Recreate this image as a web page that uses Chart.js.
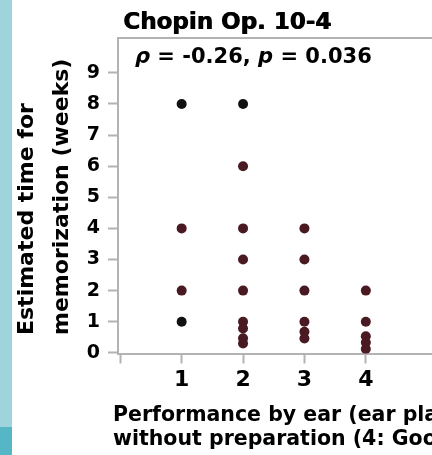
<!DOCTYPE html>
<html>
<head>
<meta charset="utf-8">
<script src="https://cdn.jsdelivr.net/npm/chart.js@4.4.1/dist/chart.umd.min.js"></script>
<style>
  html, body { margin: 0; padding: 0; background: #fff; overflow: hidden; }
  #marco { position: relative; width: 432px; height: 455px; overflow: hidden; }
  #grafico { position: absolute; left: 0; top: 0; }
  .franja { position: absolute; left: 0; width: 12px; }
</style>
</head>
<body>
<div id="marco">
  <canvas id="grafico" width="520" height="455"></canvas>
  <div class="franja" style="top:0;height:427px;background:#9fd4dc"></div>
  <div class="franja" style="top:427px;height:28px;background:#55b7c5"></div>
</div>
<script>
// Puntuacion de interpretacion de oido (1-4) y semanas estimadas de memorizacion
const puntuacion = [1, 1, 2, 2, 2, 2, 2, 2, 2, 2, 3, 3, 3, 3, 3, 3, 4, 4, 4, 4, 4];
const semanas    = [4, 2, 6, 4, 3, 2, 1, 0.78, 0.47, 0.3, 4, 3, 2, 1, 0.68, 0.46, 2, 1, 0.53, 0.33, 0.12];

// Puntos superpuestos (se ven mas oscuros)
const puntuacionSup = [1, 2, 1];
const semanasSup    = [8, 8, 1];

const ticksX = [0, 1, 2, 3, 4];
const ticksY = [0, 1, 2, 3, 4, 5, 6, 7, 8, 9];

const titulo = "Chopin Op. 10-4";
const rho = "-0.26";
const valorP = "0.036";
const tituloY = ["Estimated time for", "memorization (weeks)"];
const tituloX = ["Performance by ear (ear playing", "without preparation (4: Good, 1: Poor))"];

const gris = "#b3b3b3";
const fuente = '"DejaVu Sans"';

// Textos que van fuera de los ejes: titulo, rho y nombres de ejes
const textos = {
    id: "textos",
    afterDraw(chart) {
        const ctx = chart.ctx;
        ctx.save();
        ctx.fillStyle = "#000";
        ctx.textAlign = "left";
        ctx.textBaseline = "alphabetic";

        // titulo mas grueso: se pinta dos veces un poco corrido
        ctx.font = "bold 23px " + fuente;
        ctx.fillText(titulo, 123, 28.5);
        ctx.fillText(titulo, 123.8, 28.5);

        // rho y p en cursiva
        const partes = [
            ["\u03C1", true], [" = " + rho + ", ", false], ["p", true], [" = " + valorP, false]
        ];
        let x = 135;
        partes.forEach(([t, cursiva]) => {
            ctx.font = (cursiva ? "italic " : "") + "bold 21px " + fuente;
            ctx.fillText(t, x, 63);
            x += ctx.measureText(t).width;
        });

        ctx.font = "bold 22px " + fuente;
        ctx.save();
        ctx.translate(33, 335);
        ctx.rotate(-Math.PI / 2);
        tituloY.forEach((linea, i) => ctx.fillText(linea, 0, i * 35));
        ctx.restore();

        ctx.font = "bold 20.5px " + fuente;
        tituloX.forEach((linea, i) => ctx.fillText(linea, 113, 421 + i * 24));
        ctx.restore();
    }
};

new Chart(document.getElementById("grafico"), {
    type: "scatter",
    data: {
        datasets: [{
            data: puntuacion.map((p, i) => ({ x: p, y: semanas[i] })),
            backgroundColor: "#4a1a22",
            pointRadius: 5,
            borderWidth: 0
        }, {
            data: puntuacionSup.map((p, i) => ({ x: p, y: semanasSup[i] })),
            backgroundColor: "#111111",
            pointRadius: 5,
            borderWidth: 0
        }]
    },
    options: {
        responsive: false,
        animation: false,
        layout: { padding: 0 },
        plugins: { legend: { display: false }, tooltip: { enabled: false } },
        scales: {
            x: {
                type: "linear",
                position: "bottom",
                min: -0.037,
                max: 6.43,
                afterFit: s => { s.height = 101.5; },
                afterBuildTicks: s => { s.ticks = ticksX.map(v => ({ value: v })); },
                ticks: {
                    callback: v => v === 0 ? "" : v,
                    color: "#000",
                    padding: 4,
                    font: { family: "DejaVu Sans", size: 22, weight: "bold" }
                },
                grid: { drawOnChartArea: false, tickLength: 10, tickColor: gris, tickWidth: 2 },
                border: { color: gris, width: 2 }
            },
            xArriba: {
                type: "linear",
                position: "top",
                min: 0,
                max: 1,
                afterFit: s => { s.height = 38; },
                ticks: { display: false },
                grid: { display: false },
                border: { color: gris, width: 2 }
            },
            y: {
                min: -0.022,
                max: 10.12,
                afterFit: s => { s.width = 118; },
                afterBuildTicks: s => { s.ticks = ticksY.map(v => ({ value: v })); },
                ticks: {
                    color: "#000",
                    padding: 8,
                    font: { family: "DejaVu Sans", size: 19, weight: "bold" }
                },
                grid: { drawOnChartArea: false, tickLength: 10, tickColor: gris, tickWidth: 2 },
                border: { color: gris, width: 2 }
            }
        }
    },
    plugins: [textos]
});
</script>
</body>
</html>
